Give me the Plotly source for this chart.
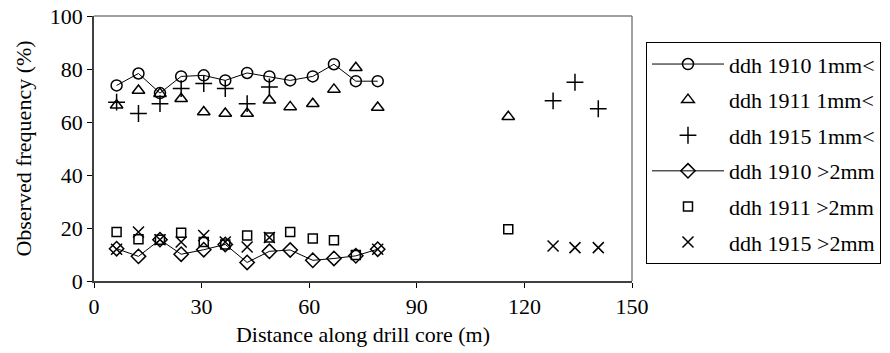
import plotly.graph_objects as go

# Depth positions along the drill core (m)
depth_1910 = [6.3, 12.4, 18.4, 24.3, 30.6, 36.6, 42.7, 48.9, 54.7, 61.0, 66.9, 73.0, 79.1]
depth_1911 = [6.3, 12.4, 18.4, 24.3, 30.6, 36.6, 42.7, 48.9, 54.7, 61.0, 66.9, 73.0, 79.1, 115.5]
depth_1915_fine = [6.3, 12.4, 18.4, 24.3, 30.6, 36.6, 42.7, 48.9, 128.0, 134.1, 140.6]
depth_1911_coarse = [6.3, 12.4, 18.4, 24.3, 30.6, 36.6, 42.7, 48.9, 54.7, 61.0, 66.9, 73.0, 115.5]
depth_1915_coarse = [6.3, 12.4, 18.4, 24.3, 30.6, 36.6, 42.7, 48.9, 79.1, 128.0, 134.1, 140.6]

# Observed frequencies (%)
fine_1910 = [73.8, 78.3, 70.9, 77.2, 77.6, 75.7, 78.5, 77.2, 75.7, 77.2, 81.8, 75.4, 75.4]
fine_1911 = [66.3, 71.9, 70.7, 68.8, 63.8, 63.2, 63.2, 68.2, 65.7, 66.9, 72.3, 80.5, 65.5, 62.0]
fine_1915 = [67.5, 63.2, 66.9, 72.6, 74.5, 72.6, 66.9, 73.2, 68.0, 75.0, 65.0]
coarse_1910 = [12.2, 9.3, 15.6, 10.1, 11.8, 13.8, 7.0, 11.2, 11.7, 7.8, 8.5, 9.5, 12.0]
coarse_1911 = [18.5, 15.8, 15.6, 18.2, 14.7, 13.8, 17.2, 16.4, 18.5, 16.0, 15.4, 9.8, 19.5]
coarse_1915 = [12.0, 18.5, 15.6, 14.7, 17.2, 14.7, 12.8, 16.4, 12.0, 13.2, 12.6, 12.6]

x_ticks = [0, 30, 60, 90, 120, 150]
y_ticks = [0, 20, 40, 60, 80, 100]

SERIF = "Liberation Serif"
BLACK = "#000000"
FS = 22

fig = go.Figure()

def add_series(x, y, name, symbol, size, with_line):
    fig.add_trace(go.Scatter(
        x=x, y=y, name=name, legendgroup=name,
        mode="lines+markers" if with_line else "markers",
        line=dict(color=BLACK, width=1),
        marker=dict(symbol=symbol, size=size, color=BLACK,
                    line=dict(color=BLACK, width=1.5)),
    ))

add_series(depth_1910, fine_1910, "ddh 1910 1mm<", "circle-open", 11, True)
add_series(depth_1911, fine_1911, "ddh 1911 1mm<", "triangle-up-open", 11, False)
add_series(depth_1915_fine, fine_1915, "ddh 1915 1mm<", "cross-thin-open", 12, False)
add_series(depth_1910, coarse_1910, "ddh 1910 >2mm", "diamond-open", 11, True)
add_series(depth_1911_coarse, coarse_1911, "ddh 1911 >2mm", "square-open", 9, False)
add_series(depth_1915_coarse, coarse_1915, "ddh 1915 >2mm", "x-thin-open", 11, False)

fig.update_layout(
    width=890, height=353,
    margin=dict(l=94, r=258, t=16, b=72, autoexpand=False),
    paper_bgcolor="white", plot_bgcolor="white",
    font=dict(family=SERIF, size=FS, color=BLACK),
    showlegend=True,
    legend=dict(
        x=1.026, y=0.901, xanchor="left", yanchor="top",
        bordercolor=BLACK, borderwidth=1,
        font=dict(family=SERIF, size=FS, color=BLACK),
        tracegroupgap=4, itemwidth=72,
    ),
    xaxis=dict(
        range=[0, 150], tickvals=x_ticks, ticks="outside", ticklen=5,
        tickcolor=BLACK, showline=True, linecolor="#404040", linewidth=1.5,
        mirror=False, showgrid=False, zeroline=False,
        tickfont=dict(family=SERIF, size=FS),
        title=dict(text="Distance along drill core (m)", standoff=8,
                   font=dict(family=SERIF, size=FS)),
    ),
    yaxis=dict(
        range=[0, 100], tickvals=y_ticks, ticks="outside", ticklen=5,
        tickcolor=BLACK, showline=True, linecolor="#404040", linewidth=1.5,
        showgrid=False, zeroline=False,
        tickfont=dict(family=SERIF, size=FS),
        title=dict(text="Observed frequency (%)", standoff=12,
                   font=dict(family=SERIF, size=FS)),
    ),
    shapes=[
        # top and right edges of the plotting frame
        dict(type="line", xref="paper", yref="paper", x0=0, x1=1, y0=1, y1=1,
             line=dict(color="#808080", width=1.5)),
        dict(type="line", xref="paper", yref="paper", x0=1, x1=1, y0=0, y1=1,
             line=dict(color="#808080", width=1.5)),
    ],
)

fig.write_html("out.html")
